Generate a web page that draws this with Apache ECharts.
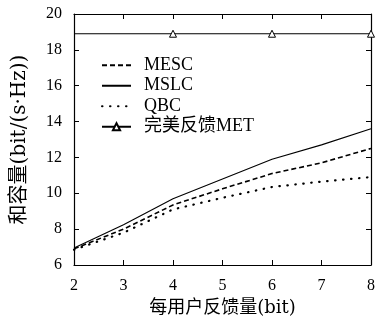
<!DOCTYPE html>
<html>
<head>
<meta charset="utf-8">
<script src="https://cdn.jsdelivr.net/npm/echarts@6/dist/echarts.min.js"></script>
<style>html,body{margin:0;padding:0;background:#fff}#c{width:378px;height:322px}</style>
</head>
<body>
<div id="c"></div>
<script>
const xTicks = [2, 3, 4, 5, 6, 7, 8];
const mesc = [6.9, 8.0, 9.35, 10.25, 11.1, 11.7, 12.5];
const mslc = [6.95, 8.25, 9.7, 10.8, 11.9, 12.7, 13.6];
const qbc = [6.85, 7.8, 9.1, 9.75, 10.35, 10.65, 10.9];
const met = [18.9, 18.9, 18.9, 18.9, 18.9, 18.9, 18.9];
const metMarked = [false, false, true, false, true, false, true];
const yTicks = [6, 8, 10, 12, 14, 16, 18, 20];
const legendNames = ['MESC', 'MSLC', 'QBC', '完美反馈MET'];

const serif = '"Liberation Serif", "Noto Sans CJK SC", serif';
const nameFont = '"DejaVu Serif", "Noto Sans CJK SC", serif';
const chart = echarts.init(document.getElementById('c'));
const pairs = arr => xTicks.map((x, i) => [x, arr[i]]);
const axisBase = {
  type: 'value', min: 2, max: 8, interval: 1,
  axisLine: { show: true, lineStyle: { color: '#000', width: 1.2 } },
  axisTick: { show: true, inside: true, length: 5, lineStyle: { color: '#000' } },
  splitLine: { show: false }
};
chart.setOption({
  animation: false,
  grid: { left: 74, right: 3, top: 14, bottom: 56, containLabel: false },
  legend: {
    orient: 'vertical', left: 96, top: 50, itemWidth: 29, itemHeight: 9, itemGap: 0,
    textStyle: { fontFamily: serif, fontSize: 18, color: '#000', lineHeight: 20.5, padding: [0, 0, 0, 8] },
    data: legendNames.map((n, i) => i < 3 ? { name: n, itemStyle: { opacity: 0 } } : { name: n })
  },
  xAxis: [
    Object.assign({}, axisBase, {
      position: 'bottom',
      axisLabel: { fontFamily: serif, fontSize: 16, color: '#000', margin: 13 },
      name: '每用户反馈量(bit)', nameLocation: 'middle', nameGap: 34,
      nameTextStyle: { fontFamily: nameFont, fontSize: 18, color: '#000' }
    }),
    Object.assign({}, axisBase, { position: 'top', axisLabel: { show: false } })
  ],
  yAxis: [
    Object.assign({}, axisBase, {
      min: 6, max: 20, interval: 2, position: 'left',
      axisLabel: { fontFamily: serif, fontSize: 16, color: '#000', margin: 12 },
      name: '和容量(bit/(s·Hz))', nameLocation: 'middle', nameGap: 44, nameRotate: 90,
      nameTextStyle: { fontFamily: nameFont, fontSize: 20, color: '#000' }
    }),
    Object.assign({}, axisBase, { min: 6, max: 20, interval: 2, position: 'right', axisLabel: { show: false } })
  ],
  series: [
    { name: 'MESC', type: 'line', data: pairs(mesc), showSymbol: false,
      lineStyle: { color: '#000', width: 1.6, type: [5, 3] }, itemStyle: { color: '#000' } },
    { name: 'MSLC', type: 'line', data: pairs(mslc), showSymbol: false,
      lineStyle: { color: '#000', width: 1.1 }, itemStyle: { color: '#000' } },
    { name: 'QBC', type: 'line', data: pairs(qbc), showSymbol: false,
      lineStyle: { color: '#000', width: 2.2, type: [0.5, 7.5], cap: 'round' }, itemStyle: { color: '#000' } },
    { name: '完美反馈MET', type: 'line', symbol: 'triangle', symbolSize: 7,
      data: xTicks.map((x, i) => ({ value: [x, met[i]], symbol: metMarked[i] ? 'triangle' : 'none' })),
      lineStyle: { color: '#000', width: 1.1 },
      itemStyle: { color: '#fff', borderColor: '#000', borderWidth: 1 } }
  ]
});
</script>
</body>
</html>
